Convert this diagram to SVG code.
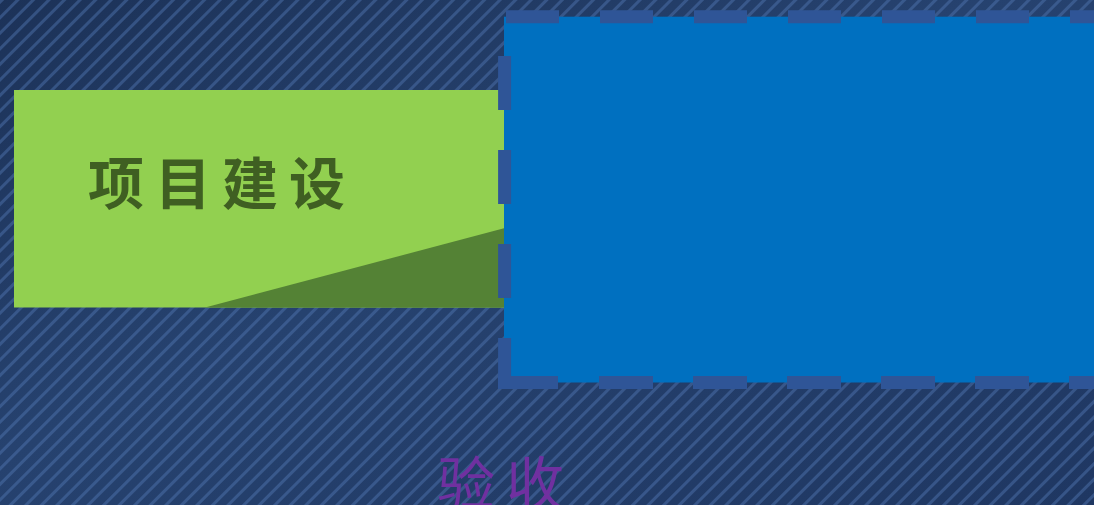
<svg xmlns="http://www.w3.org/2000/svg" width="1094" height="505" viewBox="0 0 1094 505">
  <defs>
    <linearGradient id="bgGrad" x1="0" y1="0" x2="1" y2="1">
      <stop offset="0" stop-color="#1C3258"/>
      <stop offset="0.45" stop-color="#26426F"/>
      <stop offset="1" stop-color="#1F3762"/>
    </linearGradient>
    <pattern id="stripes" width="11" height="11" patternUnits="userSpaceOnUse" patternTransform="rotate(45)">
      <rect x="0" y="0" width="3" height="11" fill="#5277B3" fill-opacity="0.45"/>
    </pattern>
    <style>
      .dash { stroke: #2F5597; stroke-width: 13; fill: none; }
      .title { font-family: "Noto Sans CJK SC", "Noto Sans", sans-serif; font-weight: 700; }
    </style>
  </defs>

  <g id="background">
    <rect x="0" y="0" width="1094" height="505" fill="url(#bgGrad)"/>
    <rect x="0" y="0" width="1094" height="505" fill="url(#stripes)"/>
  </g>

  <g id="node-project">
    <rect x="14" y="90" width="490" height="217.5" fill="#92D050"/>
    <polygon points="205,307.5 504,228.3 504,307.5" fill="#548235"/>
    <text class="title" x="222" y="204" font-size="56" letter-spacing="11" text-anchor="middle" fill="#3F5F22">项目建设</text>
  </g>

  <g id="node-box">
    <rect x="504" y="16.7" width="600" height="365.8" fill="#0070C0"/>
    <line class="dash" x1="506" y1="16.7" x2="1100" y2="16.7" stroke-dasharray="53 41"/>
    <line class="dash" x1="504.6" y1="56" x2="504.6" y2="389" stroke-dasharray="54 40"/>
    <line class="dash" x1="498" y1="382.5" x2="558" y2="382.5"/>
    <line class="dash" x1="599" y1="382.5" x2="1100" y2="382.5" stroke-dasharray="54 40"/>
  </g>

  <g id="node-accept">
    <text x="506" y="505" font-size="58" letter-spacing="11" text-anchor="middle" fill="#7030A0" font-family="Noto Sans CJK SC, sans-serif">验收</text>
  </g>

  <g id="connectors"></g>
</svg>
